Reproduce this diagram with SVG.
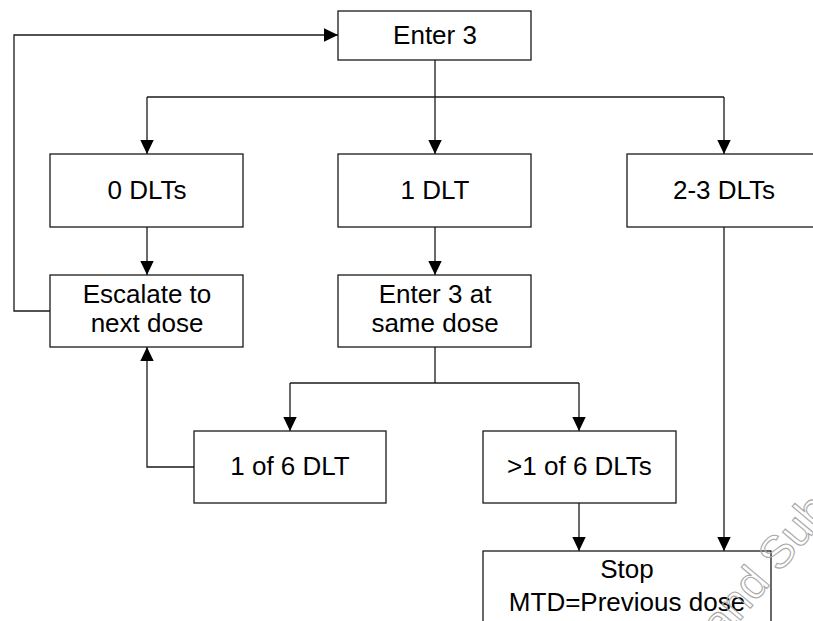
<svg xmlns="http://www.w3.org/2000/svg" width="813" height="621" viewBox="0 0 813 621">
<style>
.box{fill:#fff;stroke:#1a1a1a;stroke-width:1.3}
.lbl{font-family:"Liberation Sans",Arial,sans-serif;font-size:26px;fill:#000;text-anchor:middle}
.con{fill:none;stroke:#1a1a1a;stroke-width:1.3}
.wm{font-family:"Liberation Sans",Arial,sans-serif;font-size:46px;fill:none;stroke:#a8a8a8;stroke-width:1.1}
</style>
<defs>
<marker id="ah" markerUnits="userSpaceOnUse" markerWidth="14" markerHeight="14" viewBox="0 0 14 14" refX="14" refY="7" orient="auto">
<path d="M0,0.3 L14,7 L0,13.7 Z" fill="#000"/>
</marker>
</defs>
<rect width="813" height="621" fill="#fff"/>
<g id="connectors">
<path class="con" d="M50,311 H14 V35 H338" marker-end="url(#ah)"/>
<path class="con" d="M435,60 V97"/>
<path class="con" d="M147,97 H724"/>
<path class="con" d="M147,97 V154" marker-end="url(#ah)"/>
<path class="con" d="M435,97 V154" marker-end="url(#ah)"/>
<path class="con" d="M724,97 V154" marker-end="url(#ah)"/>
<path class="con" d="M147,227 V275" marker-end="url(#ah)"/>
<path class="con" d="M435,227 V275" marker-end="url(#ah)"/>
<path class="con" d="M435,347 V383"/>
<path class="con" d="M290,383 H579"/>
<path class="con" d="M290,383 V431" marker-end="url(#ah)"/>
<path class="con" d="M579,383 V431" marker-end="url(#ah)"/>
<path class="con" d="M194,467 H147 V347" marker-end="url(#ah)"/>
<path class="con" d="M579,503 V551" marker-end="url(#ah)"/>
<path class="con" d="M724,227 V551" marker-end="url(#ah)"/>
</g>
<g id="enter3"><rect class="box" x="338" y="11" width="193" height="49"/><text class="lbl" x="435" y="44">Enter 3</text></g>
<g id="dlt0"><rect class="box" x="50" y="154" width="193" height="73"/><text class="lbl" x="147" y="199">0 DLTs</text></g>
<g id="dlt1"><rect class="box" x="338" y="154" width="193" height="73"/><text class="lbl" x="435" y="199">1 DLT</text></g>
<g id="dlt23"><rect class="box" x="627" y="154" width="193" height="73"/><text class="lbl" x="724" y="199">2-3 DLTs</text></g>
<g id="escalate"><rect class="box" x="50" y="275" width="193" height="72"/><text class="lbl" x="147" y="303">Escalate to</text><text class="lbl" x="147" y="332">next dose</text></g>
<g id="enter3same"><rect class="box" x="338" y="275" width="193" height="72"/><text class="lbl" x="435" y="303">Enter 3 at</text><text class="lbl" x="435" y="332">same dose</text></g>
<g id="oneof6"><rect class="box" x="194" y="431" width="192" height="72"/><text class="lbl" x="290" y="475">1 of 6 DLT</text></g>
<g id="gt1of6"><rect class="box" x="483" y="431" width="193" height="72"/><text class="lbl" x="579.5" y="475">&gt;1 of 6 DLTs</text></g>
<g id="stop"><rect class="box" x="483" y="551" width="288" height="80"/><text class="lbl" x="627" y="578">Stop</text><text class="lbl" x="627" y="611">MTD=Previous dose</text></g>
<text class="wm" transform="translate(722,642) rotate(-50)">and Sub</text>
</svg>
